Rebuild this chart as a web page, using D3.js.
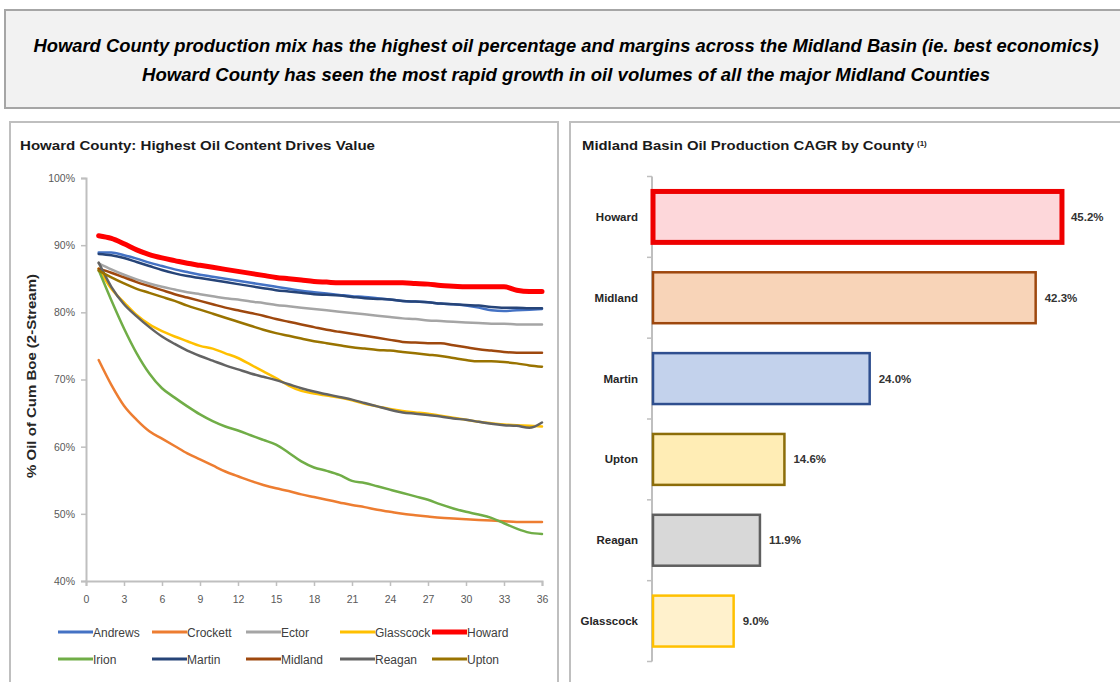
<!DOCTYPE html>
<html><head><meta charset="utf-8">
<script src="https://cdn.jsdelivr.net/npm/d3@7"></script>
<style>
html,body{margin:0;padding:0;background:#fff;}
svg{display:block;}
</style></head>
<body><svg id="c" width="1120" height="682"></svg>
<script>
// ---------- DATA ----------
const headline1 = "Howard County production mix has the highest oil percentage and margins across the Midland Basin (ie. best economics)";
const headline2 = "Howard County has seen the most rapid growth in oil volumes of all the major Midland Counties";
const leftTitle = "Howard County: Highest Oil Content Drives Value";
const rightTitle = "Midland Basin Oil Production CAGR by County";
const yAxisTitle = "% Oil of Cum Boe (2-Stream)";

const months = d3.range(1, 37);
const xTicks = [0,3,6,9,12,15,18,21,24,27,30,33,36];
const yTicks = [0.4,0.5,0.6,0.7,0.8,0.9,1.0];

const seriesNames = ["Andrews","Crockett","Ector","Glasscock","Howard","Irion","Martin","Midland","Reagan","Upton"];
const andrews = [88.9,88.9,88.5,88.0,87.4,86.9,86.4,86.0,85.6,85.3,85.0,84.7,84.4,84.1,83.8,83.5,83.2,83.0,82.8,82.6,82.4,82.3,82.1,81.9,81.7,81.6,81.5,81.3,81.2,81.0,80.7,80.3,80.2,80.3,80.4,80.5];
const crockett = [72.9,69.2,66.1,64.0,62.3,61.2,60.1,59.0,58.1,57.2,56.3,55.6,54.9,54.3,53.8,53.4,52.9,52.5,52.1,51.7,51.3,51.0,50.6,50.3,50.0,49.8,49.6,49.4,49.3,49.2,49.1,49.0,48.9,48.8,48.8,48.8];
const ector = [87.3,86.4,85.6,84.9,84.3,83.8,83.4,83.0,82.7,82.4,82.1,81.9,81.6,81.4,81.1,80.9,80.7,80.5,80.3,80.1,79.9,79.7,79.5,79.3,79.1,79.0,78.8,78.7,78.6,78.5,78.4,78.3,78.3,78.2,78.2,78.2];
const glasscock = [86.5,83.5,81.5,79.6,78.2,77.2,76.4,75.7,75.0,74.6,73.9,73.2,72.2,71.2,70.2,69.1,68.3,67.9,67.6,67.3,66.9,66.4,66.0,65.6,65.3,65.1,64.9,64.6,64.3,64.0,63.7,63.5,63.3,63.2,63.1,63.0];
const howard = [91.4,91.0,90.2,89.3,88.6,88.1,87.7,87.3,87.0,86.7,86.4,86.1,85.8,85.5,85.2,85.0,84.8,84.6,84.5,84.4,84.4,84.4,84.4,84.4,84.4,84.3,84.2,84.0,83.9,83.8,83.8,83.8,83.8,83.3,83.1,83.1];
const irion = [86.3,81.8,77.6,73.9,70.9,68.7,67.3,66.0,64.8,63.8,63.0,62.4,61.7,61.0,60.3,59.1,57.8,56.9,56.4,55.8,54.9,54.6,54.1,53.6,53.1,52.6,52.1,51.4,50.8,50.3,49.9,49.4,48.6,47.8,47.2,47.0];
const martin = [88.7,88.5,88.1,87.5,86.9,86.3,85.8,85.4,85.1,84.8,84.5,84.2,83.9,83.6,83.3,83.1,82.9,82.7,82.6,82.5,82.3,82.1,82.0,81.9,81.7,81.6,81.5,81.3,81.2,81.1,81.0,80.8,80.7,80.7,80.6,80.6];
const midland = [86.5,85.9,85.2,84.5,83.9,83.3,82.7,82.2,81.7,81.2,80.7,80.3,79.9,79.5,79.0,78.6,78.2,77.8,77.4,77.1,76.8,76.5,76.2,75.9,75.6,75.5,75.4,75.4,75.1,74.8,74.5,74.3,74.1,74.0,74.0,74.0];
const reagan = [87.4,83.8,81.2,79.4,77.8,76.4,75.3,74.3,73.5,72.8,72.1,71.5,70.9,70.4,69.9,69.3,68.7,68.2,67.8,67.4,67.0,66.5,66.0,65.5,65.1,64.9,64.7,64.5,64.2,64.0,63.7,63.4,63.2,63.1,62.8,63.6];
const upton = [86.2,85.2,84.3,83.5,82.9,82.3,81.7,81.0,80.4,79.8,79.2,78.6,78.0,77.4,76.9,76.5,76.1,75.7,75.4,75.1,74.8,74.6,74.4,74.3,74.1,73.9,73.7,73.5,73.2,72.9,72.7,72.7,72.6,72.4,72.1,71.9];
const seriesValues = [andrews,crockett,ector,glasscock,howard,irion,martin,midland,reagan,upton];
const seriesColors = ["#4472C4","#ED7D31","#A5A5A5","#FFC000","#FF0000","#70AD47","#264478","#9E480E","#636363","#997300"];

const barCounties = ["Howard","Midland","Martin","Upton","Reagan","Glasscock"];
const barValues = [45.2,42.3,24.0,14.6,11.9,9.0];
const barFills = ["#FDD7DA","#F8D4B8","#C3D2EC","#FFEDB5","#D8D8D8","#FFF1CC"];
const barStrokes = ["#EE0000","#9E480E","#2F4F8F","#8C6D0A","#5F5F5F","#FFC000"];

// ---------- DRAW ----------
const svg = d3.select("#c");
const FONT = "'Liberation Sans', Arial, sans-serif";

// Headline box
svg.append("rect").attr("x",5).attr("y",10).attr("width",1130).attr("height",98)
  .attr("fill","#F2F2F2").attr("stroke","#A6A6A6").attr("stroke-width",2);
[headline1, headline2].forEach((t,i)=>{
  svg.append("text").attr("x",566).attr("y",[52,81][i]).attr("text-anchor","middle")
    .attr("font-family","'Liberation Sans Narrow','Liberation Sans',sans-serif")
    .attr("font-weight","bold").attr("font-style","italic").attr("font-size",17.5)
    .attr("fill","#000")
    .attr("textLength",[1065,848][i]).attr("lengthAdjust","spacingAndGlyphs")
    .text(t);
});

// Panels
svg.append("rect").attr("x",10).attr("y",122).attr("width",548).attr("height",580)
  .attr("fill","#fff").attr("stroke","#BFBFBF").attr("stroke-width",2);
svg.append("rect").attr("x",570).attr("y",122).attr("width",570).attr("height",580)
  .attr("fill","#fff").attr("stroke","#BFBFBF").attr("stroke-width",2);

svg.append("text").attr("x",20).attr("y",150).attr("font-family",FONT).attr("font-weight","bold")
  .attr("font-size",12.5).attr("fill","#1a1a1a").attr("textLength",355).attr("lengthAdjust","spacingAndGlyphs").text(leftTitle);
const rt = svg.append("text").attr("x",582).attr("y",150).attr("font-family",FONT).attr("font-weight","bold")
  .attr("font-size",12.5).attr("fill","#1a1a1a");
rt.append("tspan").attr("textLength",332).attr("lengthAdjust","spacingAndGlyphs").text(rightTitle);
rt.append("tspan").attr("dx",3).attr("dy",-4).attr("font-size",8).text("(1)");

// ---------- Line chart ----------
const x = d3.scaleLinear().domain([0,36]).range([86,542]);
const y = d3.scaleLinear().domain([0.4,1.0]).range([581,178]);

const gy = svg.append("g").attr("transform","translate(86,0)")
  .call(d3.axisLeft(y).tickValues(yTicks).tickFormat(d3.format(".0%")).tickSize(5).tickPadding(6));
const gx = svg.append("g").attr("transform","translate(0,581)")
  .call(d3.axisBottom(x).tickValues(xTicks).tickSize(5).tickPadding(10));
[gx,gy].forEach(g=>{
  g.select(".domain").attr("stroke","#BFBFBF").attr("stroke-width",2);
  g.selectAll(".tick line").attr("stroke","#BFBFBF").attr("stroke-width",1.5);
  g.selectAll(".tick text").attr("fill","#595959").attr("font-family",FONT).attr("font-size",10.5);
});

svg.append("text").attr("transform","translate(36,376) rotate(-90)").attr("text-anchor","middle")
  .attr("font-family",FONT).attr("font-weight","bold").attr("font-size",12.5).attr("fill","#262626")
  .attr("textLength",204).attr("lengthAdjust","spacingAndGlyphs").text(yAxisTitle);

const line = d3.line().x((d,i)=>x(months[i])).y(d=>y(d/100)).curve(d3.curveMonotoneX);
seriesNames.forEach((n,i)=>{
  svg.append("path").attr("d",line(seriesValues[i])).attr("fill","none")
    .attr("stroke",seriesColors[i]).attr("stroke-width", n==="Howard"?5:2.5)
    .attr("stroke-linejoin","round").attr("stroke-linecap","round");
});

// Legend
const legX = [58,152,246,340,432];
const legY = [632,659];
seriesNames.forEach((n,i)=>{
  const lx = legX[i%5], ly = legY[Math.floor(i/5)];
  svg.append("line").attr("x1",lx).attr("x2",lx+35).attr("y1",ly).attr("y2",ly)
    .attr("stroke",seriesColors[i]).attr("stroke-width", n==="Howard"?5:3);
  svg.append("text").attr("x",lx+35).attr("y",ly+4.5).attr("font-family",FONT).attr("font-size",12)
    .attr("fill","#404040").text(n);
});

// ---------- Bar chart ----------
const bx = d3.scaleLinear().domain([0,50]).range([652,1105.5]);
const by = d3.scaleBand().domain(barCounties).range([176.5,661.5]).paddingInner(0.37).paddingOuter(0.185);

// bar axis line and boundary ticks
svg.append("line").attr("x1",bx(0)).attr("x2",bx(0)).attr("y1",by.range()[0]).attr("y2",by.range()[1])
  .attr("stroke","#BFBFBF").attr("stroke-width",2);
d3.range(barCounties.length+1).forEach(k=>{
  const yy = by.range()[0] + k*by.step();
  svg.append("line").attr("x1",bx(0)-5).attr("x2",bx(0)).attr("y1",yy).attr("y2",yy)
    .attr("stroke","#BFBFBF").attr("stroke-width",1.5);
});

barCounties.forEach((c,i)=>{
  svg.append("rect").attr("x",bx(0)+1).attr("y",by(c)).attr("width",bx(barValues[i])-bx(0)-1).attr("height",by.bandwidth())
    .attr("fill",barFills[i]).attr("stroke",barStrokes[i]).attr("stroke-width", i===0?5:2.5);
  svg.append("text").attr("x",bx(barValues[i])+9).attr("y",by(c)+by.bandwidth()/2+4)
    .attr("font-family",FONT).attr("font-weight","bold").attr("font-size",11.5).attr("fill","#333")
    .text(d3.format(".1f")(barValues[i])+"%");
  svg.append("text").attr("x",638).attr("y",by(c)+by.bandwidth()/2+4).attr("text-anchor","end")
    .attr("font-family",FONT).attr("font-weight","bold").attr("font-size",11.5).attr("fill","#262626").text(c);
});
</script></body></html>
